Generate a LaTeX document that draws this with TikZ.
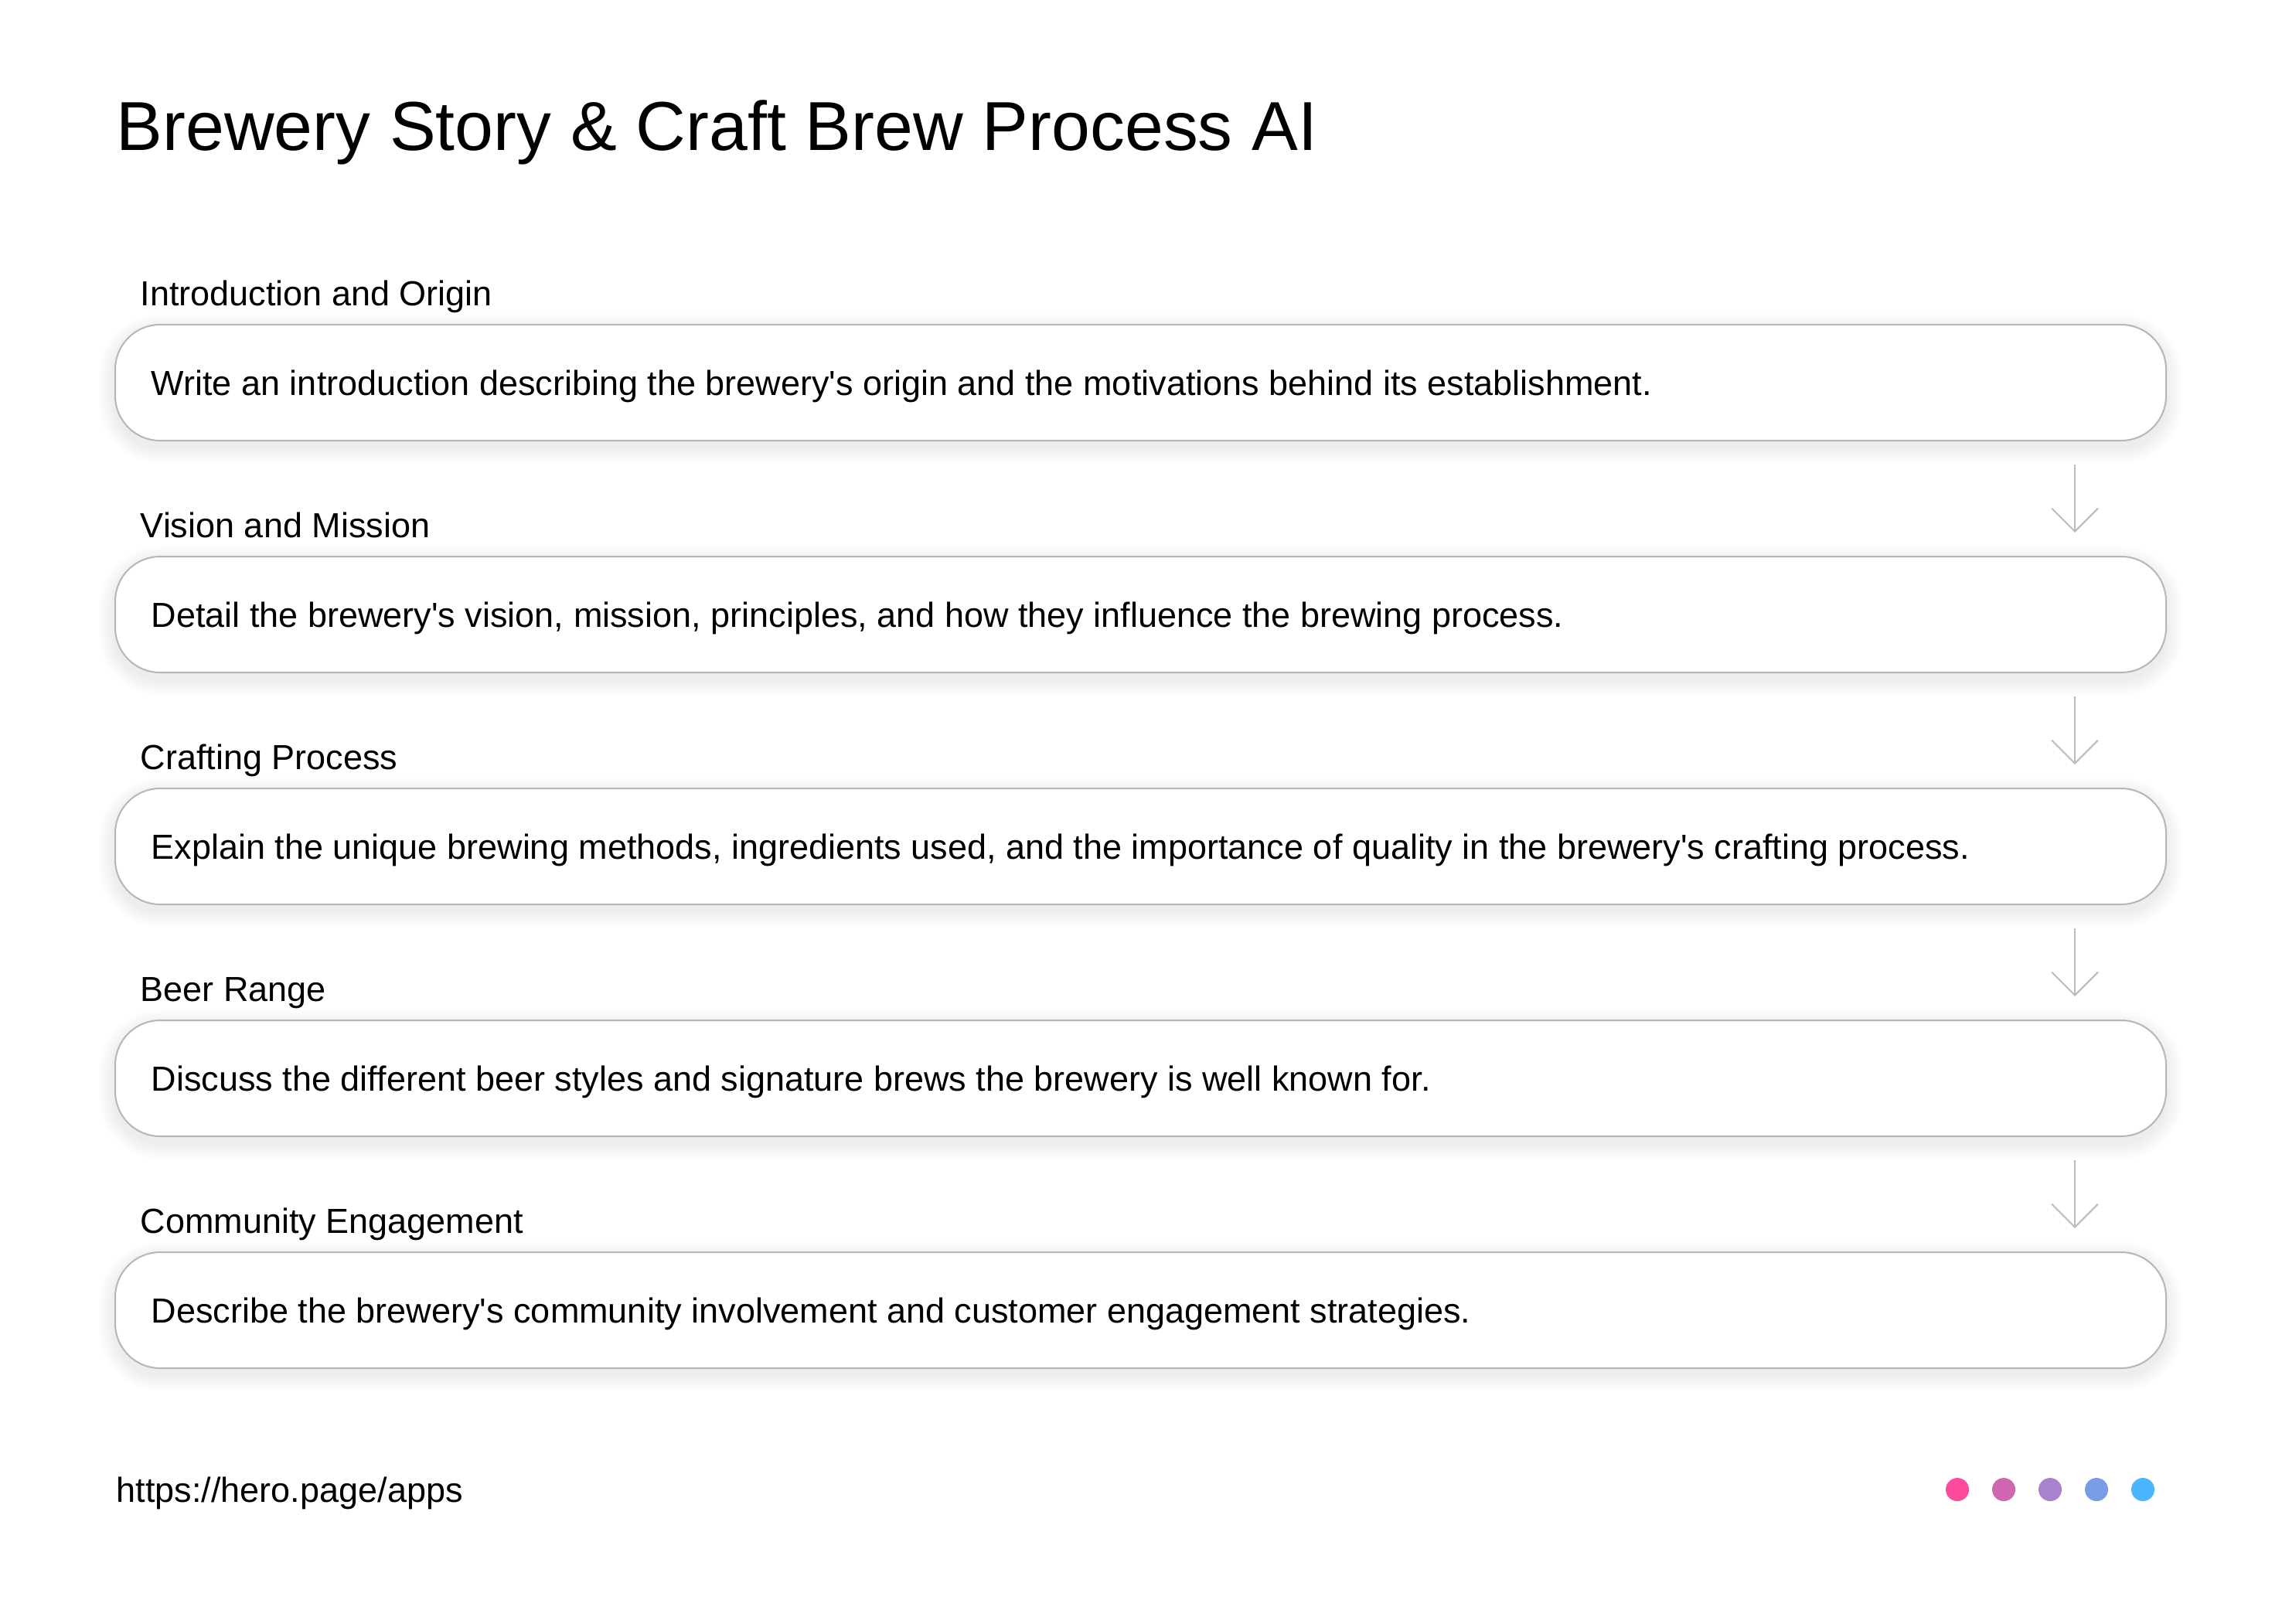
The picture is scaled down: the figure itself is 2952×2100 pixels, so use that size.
\documentclass[tikz,border=0pt]{standalone}
\usepackage{fontspec}
\setmainfont{Liberation Sans}[Ligatures=TeXOff]
\usetikzlibrary{calc,arrows.meta}
\definecolor{boxgray}{RGB}{182,182,182}
\definecolor{arrgray}{RGB}{188,188,188}
\definecolor{dotA}{RGB}{255,75,155}
\definecolor{dotB}{RGB}{207,102,176}
\definecolor{dotC}{RGB}{168,130,205}
\definecolor{dotD}{RGB}{120,157,230}
\definecolor{dotE}{RGB}{75,182,255}
\begin{document}
\begin{tikzpicture}[x=0.25pt,y=-0.25pt,
  stepbox/.style={draw=boxgray,line width=0.5pt,fill=white,rounded corners=14.5pt,
    minimum width=663.25pt,minimum height=37.5pt,inner sep=0pt},
  steplabel/.style={anchor=base west,inner sep=0pt,font=\fontsize{11.25}{13}\selectfont},
  steptext/.style={anchor=base west,inner sep=0pt,font=\fontsize{11.25}{13}\selectfont},
  arr/.style={draw=arrgray,line width=0.5pt,-{Straight Barb[length=7.5pt,width=15pt,line width=0.5pt]}},
  dot/.style={circle,minimum size=7.5pt,inner sep=0pt,draw=none}]
\useasboundingbox[fill=white] (0,0) rectangle (2952,2100);

\node[anchor=base west,inner sep=0pt,font=\fontsize{22.4}{26}\selectfont] (title) at (150,194) {Brewery Story \& Craft Brew Process AI};

\foreach \t [count=\i] in {420,720,1020,1320,1620}{
  \foreach \k in {1,...,9}{
    \pgfmathsetmacro\rr{14.5+0.6*\k}
    \fill[black,opacity=0.006,rounded corners=\rr pt]
      ({149-\k*2.4},{\t+8-\k*2.4}) rectangle ({2802+\k*2.4},{\t+158+\k*2.4});
  }
  \node[stepbox] (b\i) at (1475.5,{\t+75}) {};
}

\node[steplabel] (l1) at (181,395) {Introduction and Origin};
\node[steplabel] (l2) at (181,695) {Vision and Mission};
\node[steplabel] (l3) at (181,995) {Crafting Process};
\node[steplabel] (l4) at (181,1295) {Beer Range};
\node[steplabel] (l5) at (181,1595) {Community Engagement};

\node[steptext] (t1) at (195,511) {Write an introduction describing the brewery's origin and the motivations behind its establishment.};
\node[steptext] (t2) at (195,811) {Detail the brewery's vision, mission, principles, and how they influence the brewing process.};
\node[steptext] (t3) at (195,1111) {Explain the unique brewing methods, ingredients used, and the importance of quality in the brewery's crafting process.};
\node[steptext] (t4) at (195,1411) {Discuss the different beer styles and signature brews the brewery is well known for.};
\node[steptext] (t5) at (195,1711) {Describe the brewery's community involvement and customer engagement strategies.};

\foreach \a/\b in {1/2,2/3,3/4,4/5}{
  \draw[arr] ($(b\a.south east)+(-119,30)$) -- ($(b\b.north east)+(-119,-30)$);
}

\node[anchor=base west,inner sep=0pt,font=\fontsize{11.25}{13}\selectfont] (url) at (150,1943) {https://hero.page/apps};

\node[dot,fill=dotA] (d1) at (2532,1927) {};
\node[dot,fill=dotB] (d2) at (2592,1927) {};
\node[dot,fill=dotC] (d3) at (2652,1927) {};
\node[dot,fill=dotD] (d4) at (2712,1927) {};
\node[dot,fill=dotE] (d5) at (2772,1927) {};
\end{tikzpicture}
\end{document}
